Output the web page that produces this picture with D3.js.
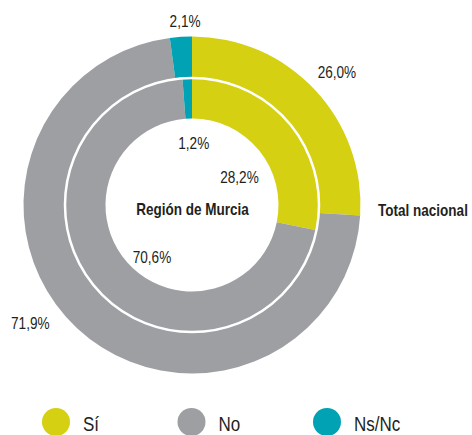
<!DOCTYPE html>
<html>
<head>
<meta charset="utf-8">
<script src="https://cdn.jsdelivr.net/npm/d3@7"></script>
<style>
  html, body { margin: 0; padding: 0; background: #fff; }
  svg text { font-family: "Liberation Sans", Arial, sans-serif; fill: #231f20; }
</style>
</head>
<body>
<svg id="chart" width="472" height="435"></svg>
<script>
// Answer categories and shares (%)
const categories = ["Sí", "No", "Ns/Nc"];
const totalNacional = [26.0, 71.9, 2.1];
const regionMurcia = [28.2, 70.6, 1.2];
const ringNames = ["Total nacional", "Región de Murcia"];
const colors = ["#d5d012", "#9e9fa3", "#00a2b3"];

const svg = d3.select("#chart");
const cx = 192, cy = 205;
const g = svg.append("g").attr("transform", `translate(${cx},${cy})`);

const color = d3.scaleOrdinal().domain(categories).range(colors);
const pie = d3.pie().sort(null).value(d => d.value);
const fmt = v => d3.format(".1f")(v).replace(".", ",") + "%";
const SX = 0.85; // horizontal squeeze for a condensed look

const rings = [
  { name: ringNames[0], values: totalNacional, inner: 127, outer: 168.5, labelR: 196 },
  { name: ringNames[1], values: regionMurcia, inner: 86.5, outer: 127, labelR: 60 }
];

// Small hand-tuned label offsets per ring/category
const nudge = {
  "Total nacional": { "Sí": [2, 2], "No": [-28, -25], "Ns/Nc": [6, 12] },
  "Región de Murcia": { "Sí": [1, 11], "No": [5, 13], "Ns/Nc": [4, -1] }
};

rings.forEach(ring => {
  const data = pie(categories.map((c, i) => ({ cat: c, value: ring.values[i] })));
  const arc = d3.arc().innerRadius(ring.inner).outerRadius(ring.outer);
  g.append("g").selectAll("path").data(data).join("path")
    .attr("d", arc)
    .attr("fill", d => color(d.data.cat));

  const labelArc = d3.arc().innerRadius(ring.labelR).outerRadius(ring.labelR);
  g.append("g").selectAll("text").data(data).join("text")
    .attr("transform", d => {
      const [x, y] = labelArc.centroid(d);
      const [nx, ny] = nudge[ring.name][d.data.cat];
      return `translate(${x + nx},${y + ny}) scale(${SX},1)`;
    })
    .attr("text-anchor", "middle")
    .attr("dominant-baseline", "central")
    .attr("font-size", 16)
    .text(d => fmt(d.data.value));
});

// white separator between the two rings
g.append("circle").attr("r", 127).attr("fill", "none")
  .attr("stroke", "#fff").attr("stroke-width", 2.5);

// ring titles
g.append("text").attr("transform", `translate(0.5,4) scale(0.82,1)`)
  .attr("text-anchor", "middle").attr("dominant-baseline", "central")
  .attr("font-weight", "bold").attr("font-size", 16.5)
  .text(ringNames[1]);
g.append("text").attr("transform", `translate(186,5) scale(0.82,1)`)
  .attr("text-anchor", "start").attr("dominant-baseline", "central")
  .attr("font-weight", "bold").attr("font-size", 16.5)
  .text(ringNames[0]);

// legend
const legendX = d3.scalePoint().domain(categories).range([56, 327]);
const lg = svg.append("g").selectAll("g").data(categories).join("g")
  .attr("transform", d => `translate(${legendX(d)},422)`);
lg.append("circle").attr("r", 14).attr("fill", d => color(d));
lg.append("text").attr("transform", `translate(27,2) scale(${SX},1)`)
  .attr("dominant-baseline", "central").attr("font-size", 20)
  .text(d => d);
</script>
</body>
</html>
